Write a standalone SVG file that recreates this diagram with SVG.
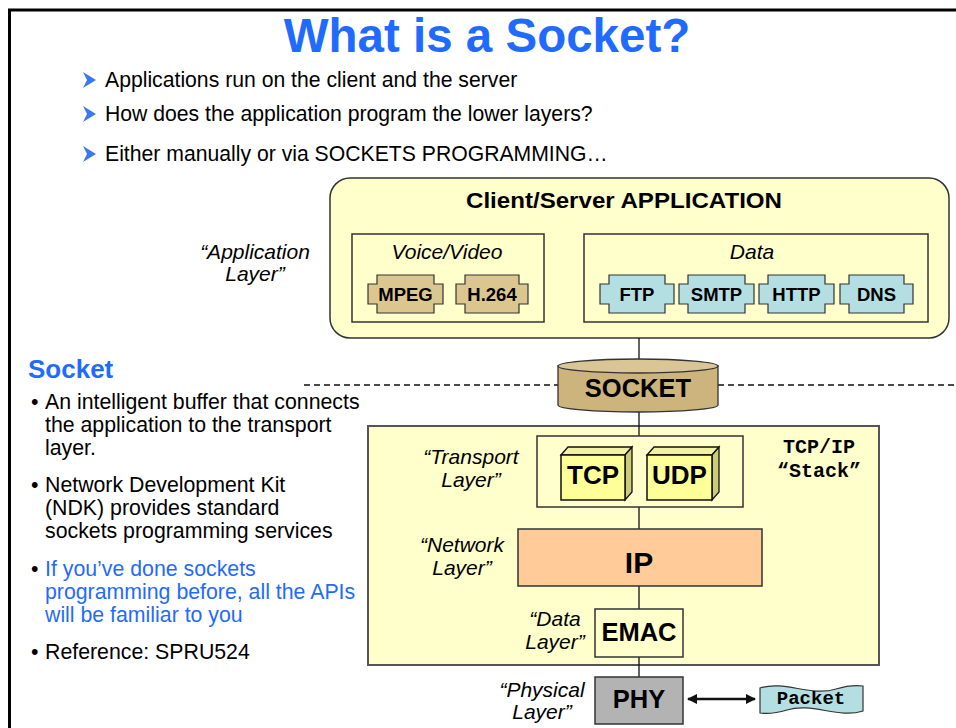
<svg xmlns="http://www.w3.org/2000/svg" width="956" height="728" viewBox="0 0 956 728">
<style>
text{font-family:"Liberation Sans",Arial,sans-serif;fill:#000}
.b{font-weight:bold}
.i{font-style:italic}
.mono{font-family:"Liberation Mono","Courier New",monospace;font-weight:bold}
.blue{fill:#1f6bff}
.box{stroke:#333;stroke-width:1.5}
.yel{fill:#ffffcc}
.tan{fill:#dcc690;stroke:#333;stroke-width:1.2}
.cyan{fill:#b3dee2;stroke:#333;stroke-width:1.2}
.conn{stroke:#111;stroke-width:1.3;fill:none}
.dash{stroke:#111;stroke-width:1.6;stroke-dasharray:6 4;fill:none}
.bul{fill:#3c78f0}
.lay{font-size:21px;font-style:italic;text-anchor:middle}
.c{text-anchor:middle}
</style>
<defs>
<marker id="ah" viewBox="0 0 10 10" refX="9" refY="5" markerWidth="4" markerHeight="4" orient="auto-start-reverse"><path d="M0,0 L10,5 L0,10 z" fill="#111"/></marker>
</defs>
<!-- page frame -->
<path d="M9.5,728 V10 H956" fill="none" stroke="#000" stroke-width="3"/>

<text x="487" y="52" class="b blue c" font-size="47.5">What is a Socket?</text>

<g id="top-bullets" font-size="21.2">
<polygon class="bul" points="83,72 96,80 83,88 87,80"/>
<text x="105" y="87">Applications run on the client and the server</text>
<polygon class="bul" points="83,106 96,114 83,122 87,114"/>
<text x="105" y="121">How does the application program the lower layers?</text>
<polygon class="bul" points="83,146 96,154 83,162 87,154"/>
<text x="105" y="161">Either manually or via SOCKETS PROGRAMMING…</text>
</g>

<g id="socket-notes" font-size="21.3">
<text x="28" y="378" class="b blue" font-size="26">Socket</text>
<text x="31" y="409">•</text>
<text x="45" y="409">An intelligent buffer that connects</text>
<text x="45" y="432">the application to the transport</text>
<text x="45" y="455">layer.</text>
<text x="31" y="492">•</text>
<text x="45" y="492">Network Development Kit</text>
<text x="45" y="515">(NDK) provides standard</text>
<text x="45" y="538">sockets programming services</text>
<text x="31" y="576">•</text>
<text x="45" y="576" class="blue">If you’ve done sockets</text>
<text x="45" y="599" class="blue">programming before, all the APIs</text>
<text x="45" y="622" class="blue">will be familiar to you</text>
<text x="31" y="659">•</text>
<text x="45" y="659">Reference: SPRU524</text>
</g>

<g id="application">
<rect x="330" y="178" width="619" height="160" rx="20" class="box yel"/>
<text x="624" y="208" class="b c" font-size="22" textLength="316" lengthAdjust="spacingAndGlyphs">Client/Server APPLICATION</text>
</g>
<g id="voice-video">
<rect x="352" y="234" width="192" height="88" class="box yel" stroke-width="1.2"/>
<text x="447" y="259" class="i c" font-size="21">Voice/Video</text>
</g>
<g id="mpeg">
<path class="tan" d="M377,275 H434 V284 H443 V304 H434 V313 H377 V304 H368 V284 H377 Z"/>
<text x="405.5" y="301" class="b c" font-size="18.5">MPEG</text>
</g>
<g id="h264">
<path class="tan" d="M465,275 H519 V284 H528 V304 H519 V313 H465 V304 H456 V284 H465 Z"/>
<text x="492" y="301" class="b c" font-size="18.5">H.264</text>
</g>
<g id="data">
<rect x="584" y="234" width="344" height="88" class="box yel" stroke-width="1.2"/>
<text x="752" y="259" class="i c" font-size="21">Data</text>
</g>
<g id="ftp">
<path class="cyan" d="M609,275 H665 V284 H674 V304 H665 V313 H609 V304 H600 V284 H609 Z"/>
<text x="637" y="301" class="b c" font-size="18.5">FTP</text>
</g>
<g id="smtp">
<path class="cyan" d="M688,275 H745 V284 H754 V304 H745 V313 H688 V304 H679 V284 H688 Z"/>
<text x="716.5" y="301" class="b c" font-size="18.5">SMTP</text>
</g>
<g id="http">
<path class="cyan" d="M768,275 H825 V284 H834 V304 H825 V313 H768 V304 H759 V284 H768 Z"/>
<text x="796.5" y="301" class="b c" font-size="18.5">HTTP</text>
</g>
<g id="dns">
<path class="cyan" d="M849,275 H904 V284 H913 V304 H904 V313 H849 V304 H840 V284 H849 Z"/>
<text x="876.5" y="301" class="b c" font-size="18.5">DNS</text>
</g>

<g id="tcpip-stack">
<rect x="368" y="426" width="511" height="239" class="yel" stroke="#555" stroke-width="2"/>
<text x="819" y="453" class="mono c" font-size="20">TCP/IP</text>
<text x="819" y="477" class="mono c" font-size="20">“Stack”</text>
</g>

<g id="connectors">
<path class="conn" d="M639,338 V360 M639,412 V436 M639,507 V529 M639,586 V609 M639,657 V677"/>
<path class="dash" d="M304,385 H558 M718,385 H956"/>
<path d="M688,699 H755" stroke="#111" stroke-width="2.6" marker-start="url(#ah)" marker-end="url(#ah)"/>
</g>

<g id="socket">
<path d="M558,366 V405 A80,7 0 0 0 718,405 V366 Z" fill="#cdb47c" stroke="#333" stroke-width="1.3"/>
<ellipse cx="638" cy="366" rx="80" ry="7" fill="#d9c596" stroke="#333" stroke-width="1.3"/>
<text x="638" y="397" class="b c" font-size="25.5">SOCKET</text>
</g>

<g id="transport">
<rect x="537" y="436" width="206" height="71" class="box yel" stroke-width="1.3"/>
</g>
<g id="tcp">
<polygon points="561,455 568,447 632,447 625,455" fill="#f2f2a0" stroke="#111" stroke-width="1.3"/>
<polygon points="625,455 632,447 632,492 625,500" fill="#cccc78" stroke="#111" stroke-width="1.3"/>
<rect x="561" y="455" width="64" height="45" fill="#ffff99" stroke="#111" stroke-width="1.5"/>
<text x="593" y="484" class="b c" font-size="26">TCP</text>
</g>
<g id="udp">
<polygon points="647,455 654,447 719,447 712,455" fill="#f2f2a0" stroke="#111" stroke-width="1.3"/>
<polygon points="712,455 719,447 719,492 712,500" fill="#cccc78" stroke="#111" stroke-width="1.3"/>
<rect x="647" y="455" width="65" height="45" fill="#ffff99" stroke="#111" stroke-width="1.5"/>
<text x="679.5" y="484" class="b c" font-size="26">UDP</text>
</g>
<g id="ip">
<rect x="518" y="529" width="244" height="57" fill="#ffcc99" class="box"/>
<text x="639" y="573" class="b c" font-size="30">IP</text>
</g>
<g id="emac">
<rect x="595" y="609" width="88" height="48" class="box yel"/>
<text x="639" y="641" class="b c" font-size="25.5">EMAC</text>
</g>
<g id="phy">
<rect x="595" y="677" width="88" height="47" fill="#b3b3b3" class="box"/>
<text x="639" y="708" class="b c" font-size="25.5">PHY</text>
</g>
<g id="packet">
<path d="M760,688 C785,680 810,697 836,689 C846,686 855,685 863,686 L863,711 C838,719 812,702 787,710 C777,713 768,714 760,713 Z" fill="#b3dee2" stroke="#333" stroke-width="1.2"/>
<text x="811" y="704" class="mono c" font-size="19">Packet</text>
</g>

<g id="layer-labels">
<text x="255" y="259" class="lay">“Application</text>
<text x="255" y="281" class="lay">Layer”</text>
<text x="471" y="464" class="lay">“Transport</text>
<text x="471" y="487" class="lay">Layer”</text>
<text x="462" y="552" class="lay">“Network</text>
<text x="462" y="575" class="lay">Layer”</text>
<text x="555" y="626" class="lay">“Data</text>
<text x="555" y="649" class="lay">Layer”</text>
<text x="542" y="697" class="lay">“Physical</text>
<text x="542" y="719" class="lay">Layer”</text>
</g>
</svg>
